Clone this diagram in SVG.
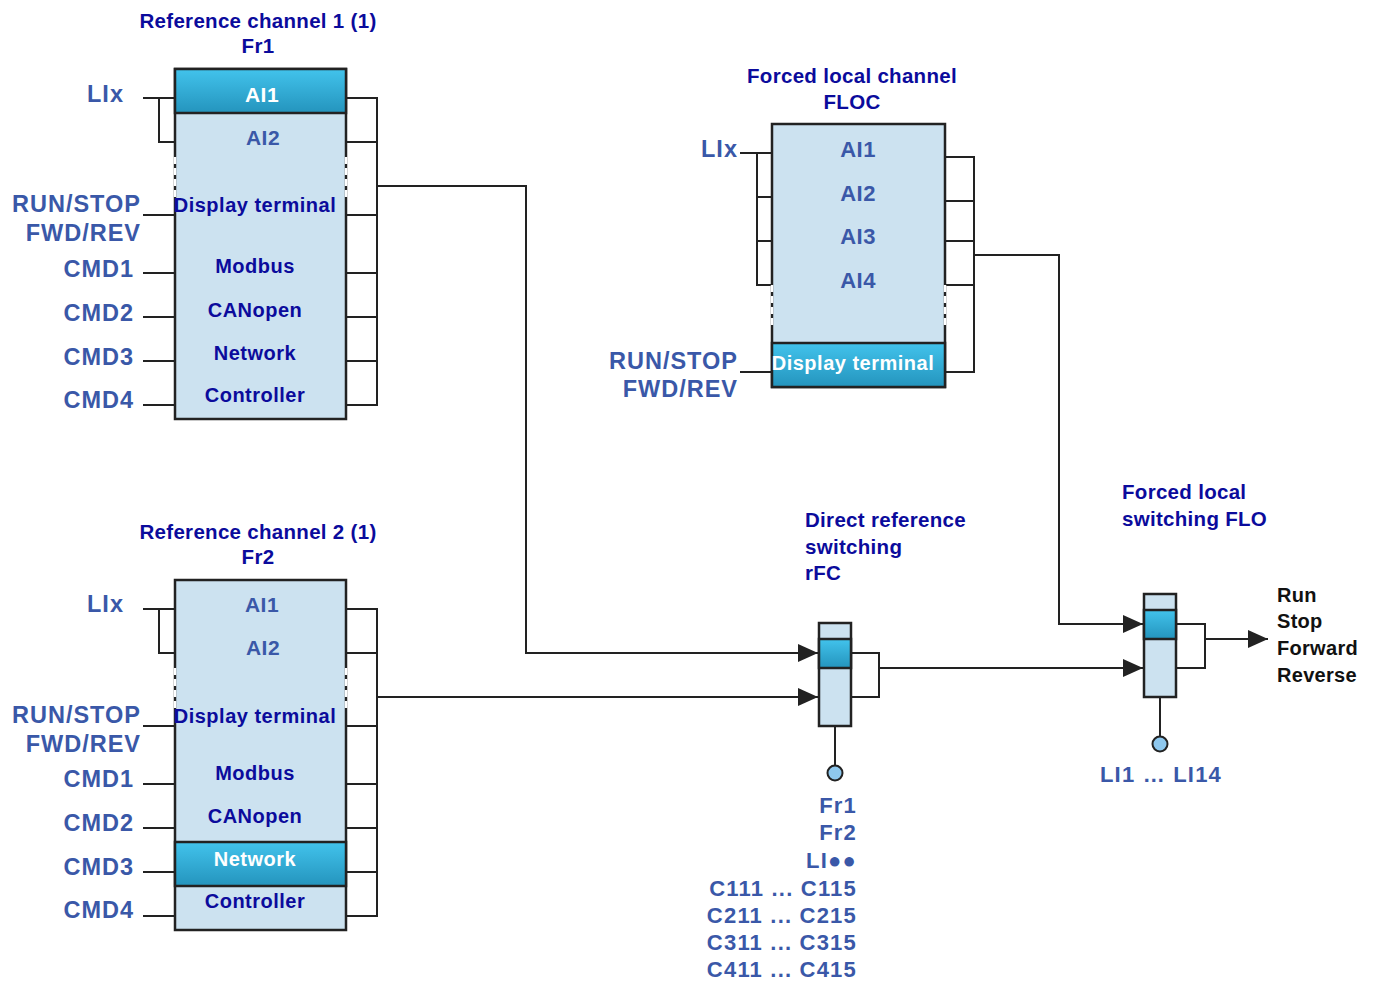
<svg xmlns="http://www.w3.org/2000/svg" width="1377" height="985" viewBox="0 0 1377 985">
<style>
text{font-family:"Liberation Sans",Arial,sans-serif;font-weight:bold}
.t{font-size:20.5px;letter-spacing:0.3px;fill:#0b0b9c}
.s{font-size:23.5px;letter-spacing:1px;fill:#3a58a8}
.ai{font-size:21px;letter-spacing:0.5px;fill:#3a58a8}
.aiw{font-size:21px;letter-spacing:0.5px;fill:#ffffff}
.b{font-size:20px;letter-spacing:0.5px;fill:#0b0b9c}
.bw{font-size:20px;letter-spacing:0.5px;fill:#ffffff}
.bl{font-size:22px;letter-spacing:1.2px;fill:#3a58a8}
.k{font-size:20px;letter-spacing:0.3px;fill:#111}
.box{fill:#cce2f0;stroke:#222;stroke-width:2.5}
.hl{fill:url(#g);stroke:#222;stroke-width:2.5}
.ln{fill:none;stroke:#222;stroke-width:2}
.wd{stroke:#fff;stroke-width:2.5;stroke-dasharray:7 4}
.c{fill:#8ec8ee;stroke:#222;stroke-width:2}
</style>
<defs>
<linearGradient id="g" x1="0" y1="0" x2="0" y2="1">
<stop offset="0" stop-color="#42c3ec"/>
<stop offset="1" stop-color="#2494bd"/>
</linearGradient>
<marker id="ar" markerUnits="userSpaceOnUse" markerWidth="20" markerHeight="18" refX="20" refY="9" orient="auto">
<path d="M0,0 L20,9 L0,18 z" fill="#222"/>
</marker>
</defs>

<g id="fr1">
<text class="t" x="258" y="28" text-anchor="middle">Reference channel 1 (1)</text>
<text class="t" x="258" y="53" text-anchor="middle">Fr1</text>
<path class="ln" d="M143,98 H175 M159,98 V142 H175 M143,215 H175 M143,273 H175 M143,317 H175 M143,361 H175 M143,405 H175"/>
<path class="ln" d="M346,98 H377 V405 H346 M346,142 H377 M346,215 H377 M346,273 H377 M346,317 H377 M346,361 H377"/>
<rect class="box" x="175" y="69" width="171" height="350"/>
<rect class="hl" x="175" y="69" width="171" height="44"/>
<line class="wd" x1="175" y1="157" x2="175" y2="200"/>
<line class="wd" x1="346" y1="157" x2="346" y2="200"/>
<text class="s" x="87" y="102">LIx</text>
<text class="s" x="141" y="212" text-anchor="end">RUN/STOP</text>
<text class="s" x="141" y="241" text-anchor="end">FWD/REV</text>
<text class="s" x="134" y="277" text-anchor="end">CMD1</text>
<text class="s" x="134" y="321" text-anchor="end">CMD2</text>
<text class="s" x="134" y="365" text-anchor="end">CMD3</text>
<text class="s" x="134" y="408" text-anchor="end">CMD4</text>
<text class="aiw" x="262" y="102" text-anchor="middle">AI1</text>
<text class="ai" x="263" y="145" text-anchor="middle">AI2</text>
<text class="b" x="255" y="212" text-anchor="middle">Display terminal</text>
<text class="b" x="255" y="273" text-anchor="middle">Modbus</text>
<text class="b" x="255" y="317" text-anchor="middle">CANopen</text>
<text class="b" x="255" y="360" text-anchor="middle">Network</text>
<text class="b" x="255" y="402" text-anchor="middle">Controller</text>
</g>

<g id="fr2">
<text class="t" x="258" y="539" text-anchor="middle">Reference channel 2 (1)</text>
<text class="t" x="258" y="564" text-anchor="middle">Fr2</text>
<path class="ln" d="M143,609 H175 M159,609 V653 H175 M143,726 H175 M143,784 H175 M143,828 H175 M143,872 H175 M143,916 H175"/>
<path class="ln" d="M346,609 H377 V916 H346 M346,653 H377 M346,726 H377 M346,784 H377 M346,828 H377 M346,872 H377"/>
<rect class="box" x="175" y="580" width="171" height="350"/>
<rect class="hl" x="175" y="842" width="171" height="44"/>
<line class="wd" x1="175" y1="668" x2="175" y2="711"/>
<line class="wd" x1="346" y1="668" x2="346" y2="711"/>
<text class="s" x="87" y="612">LIx</text>
<text class="s" x="141" y="723" text-anchor="end">RUN/STOP</text>
<text class="s" x="141" y="752" text-anchor="end">FWD/REV</text>
<text class="s" x="134" y="787" text-anchor="end">CMD1</text>
<text class="s" x="134" y="831" text-anchor="end">CMD2</text>
<text class="s" x="134" y="875" text-anchor="end">CMD3</text>
<text class="s" x="134" y="918" text-anchor="end">CMD4</text>
<text class="ai" x="262" y="612" text-anchor="middle">AI1</text>
<text class="ai" x="263" y="655" text-anchor="middle">AI2</text>
<text class="b" x="255" y="723" text-anchor="middle">Display terminal</text>
<text class="b" x="255" y="780" text-anchor="middle">Modbus</text>
<text class="b" x="255" y="823" text-anchor="middle">CANopen</text>
<text class="bw" x="255" y="866" text-anchor="middle">Network</text>
<text class="b" x="255" y="908" text-anchor="middle">Controller</text>
</g>

<g id="floc">
<text class="t" x="852" y="83" text-anchor="middle">Forced local channel</text>
<text class="t" x="852" y="109" text-anchor="middle">FLOC</text>
<path class="ln" d="M740,153 H772 M757,153 V285 H772 M757,197 H772 M757,241 H772 M740,372 H772"/>
<path class="ln" d="M945,157 H974 V372 H945 M945,201 H974 M945,241 H974 M945,285 H974"/>
<rect class="box" x="772" y="124" width="173" height="263"/>
<rect class="hl" x="772" y="343" width="173" height="44"/>
<line class="wd" x1="772" y1="285" x2="772" y2="327"/>
<line class="wd" x1="945" y1="285" x2="945" y2="327"/>
<text class="s" x="701" y="157">LIx</text>
<text class="s" x="738" y="369" text-anchor="end">RUN/STOP</text>
<text class="s" x="738" y="397" text-anchor="end">FWD/REV</text>
<text class="ai" x="858" y="157" text-anchor="middle" style="font-size:22px">AI1</text>
<text class="ai" x="858" y="201" text-anchor="middle" style="font-size:22px">AI2</text>
<text class="ai" x="858" y="244" text-anchor="middle" style="font-size:22px">AI3</text>
<text class="ai" x="858" y="288" text-anchor="middle" style="font-size:22px">AI4</text>
<text class="bw" x="853" y="370" text-anchor="middle">Display terminal</text>
</g>

<g id="rfc">
<text class="t" x="805" y="527">Direct reference</text>
<text class="t" x="805" y="554">switching</text>
<text class="t" x="805" y="580">rFC</text>
<path class="ln" d="M851,653 H879 V697 H851"/>
<line class="ln" x1="835" y1="726" x2="835" y2="766"/>
<rect class="box" x="819" y="623" width="32" height="103"/>
<rect class="hl" x="819" y="639" width="32" height="29"/>
<circle class="c" cx="835" cy="773" r="7.5"/>
<text class="bl" x="857" y="813" text-anchor="end">Fr1</text>
<text class="bl" x="857" y="840" text-anchor="end">Fr2</text>
<text class="bl" x="857" y="868" text-anchor="end">LI●●</text>
<text class="bl" x="857" y="896" text-anchor="end">C111 ... C115</text>
<text class="bl" x="857" y="923" text-anchor="end">C211 ... C215</text>
<text class="bl" x="857" y="950" text-anchor="end">C311 ... C315</text>
<text class="bl" x="857" y="977" text-anchor="end">C411 ... C415</text>
</g>

<g id="flo">
<text class="t" x="1122" y="499">Forced local</text>
<text class="t" x="1122" y="526">switching FLO</text>
<path class="ln" d="M1176,624 H1205 V668 H1176"/>
<line class="ln" x1="1160" y1="697" x2="1160" y2="737"/>
<rect class="box" x="1144" y="594" width="32" height="103"/>
<rect class="hl" x="1144" y="610" width="32" height="29"/>
<circle class="c" cx="1160" cy="744" r="7.5"/>
<text class="bl" x="1161" y="782" text-anchor="middle">LI1 … LI14</text>
</g>

<g id="out">
<text class="k" x="1277" y="602">Run</text>
<text class="k" x="1277" y="628">Stop</text>
<text class="k" x="1277" y="655">Forward</text>
<text class="k" x="1277" y="682">Reverse</text>
</g>

<g id="connectors">
<path class="ln" d="M377,186 H526 V653 H818" marker-end="url(#ar)"/>
<path class="ln" d="M377,697 H818" marker-end="url(#ar)"/>
<path class="ln" d="M879,668 H1143" marker-end="url(#ar)"/>
<path class="ln" d="M974,255 H1059 V624 H1143" marker-end="url(#ar)"/>
<path class="ln" d="M1205,639 H1268" marker-end="url(#ar)"/>
</g>
</svg>
